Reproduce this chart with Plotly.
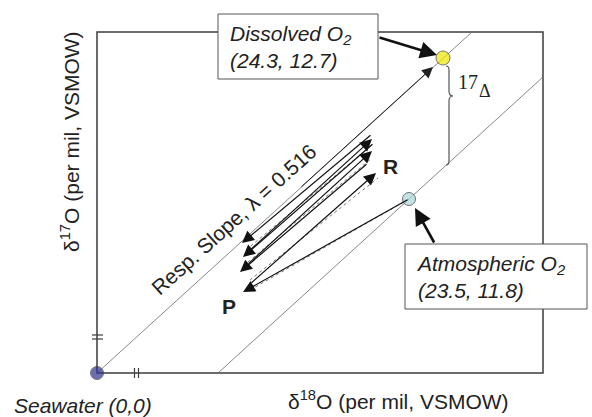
import plotly.graph_objects as go

# ---- data (schematic diagram units; origin = seawater) ----
pt_names = ["Seawater", "Dissolved O2", "Atmospheric O2"]
pt_x = [0, 346, 312]
pt_y = [0, 315, 174]
pt_colors = ["#2e3192", "#f2e600", "#a9d6d8"]
pt_sizes = [13, 14, 13]

frame_x = [0, 446]
frame_y = [0, 341]

# slope lines (respiration slope through seawater; parallel through atmospheric O2)
line1_x = [0, 375]
line1_y = [0, 341]
line2_x = [121, 446]
line2_y = [0, 296]

# photosynthesis / respiration arrows: tail -> head
arrows_tail_x = [312, 153, 271, 150, 277, 152, 275]
arrows_tail_y = [174, 89, 210, 108, 230, 122, 239]
arrows_head_x = [146, 279, 143, 275, 146, 275, 145]
arrows_head_y = [81, 200, 101, 222, 116, 234, 130]

dotted_x0 = [312, 153, 151, 149]
dotted_y0 = [174, 93, 111, 123]
dotted_x1 = [153, 281, 275, 275]
dotted_y1 = [83, 195, 215, 228]

# main arrow along slope line to dissolved O2
main_tail = (203, 185)
main_head = (336, 306)

# callout arrows
callout_tail_x = [281, 338]
callout_tail_y = [336, 129]
callout_head_x = [340, 318]
callout_head_y = [318, 165]

# brace between the two slope lines (17-Delta)
brace_top = 307
brace_tip = 277
brace_bottom = 208
brace_x = 352

fig = go.Figure()

# frame
fig.add_shape(type="rect", x0=frame_x[0], x1=frame_x[1], y0=frame_y[0], y1=frame_y[1],
              line=dict(color="#3c3c3c", width=1.5), layer="below")

# slope lines
fig.add_trace(go.Scatter(x=line1_x, y=line1_y, mode="lines",
                         line=dict(color="#6a6a6a", width=0.8), hoverinfo="skip"))
fig.add_trace(go.Scatter(x=line2_x, y=line2_y, mode="lines",
                         line=dict(color="#6a6a6a", width=0.8), hoverinfo="skip"))

# dotted companions
for a, b, c, d in zip(dotted_x0, dotted_y0, dotted_x1, dotted_y1):
    fig.add_trace(go.Scatter(x=[a, c], y=[b, d], mode="lines",
                             line=dict(color="#555", width=0.8, dash="dot"), hoverinfo="skip"))

# hash marks on axes
fig.add_trace(go.Scatter(x=[-5, 6, None, -5, 6], y=[38, 38, None, 34, 34], mode="lines",
                         line=dict(color="#3c3c3c", width=1.2), hoverinfo="skip"))
fig.add_trace(go.Scatter(x=[37.5, 37.5, None, 41.5, 41.5], y=[-5, 5, None, -5, 5], mode="lines",
                         line=dict(color="#3c3c3c", width=1.2), hoverinfo="skip"))

# brace
bt, bm, bb, bx = brace_top, brace_tip, brace_bottom, brace_x
path = (f"M {bx-3},{bt} Q {bx},{bt} {bx},{bt-4} L {bx},{bm+5} Q {bx},{bm} {bx+4},{bm} "
        f"Q {bx},{bm} {bx},{bm-5} L {bx},{bb+4} Q {bx},{bb} {bx-3},{bb}")
fig.add_shape(type="path", path=path, line=dict(color="#555", width=1.2))

# points
fig.add_trace(go.Scatter(x=pt_x, y=pt_y, mode="markers", text=pt_names,
                         marker=dict(color=pt_colors, size=pt_sizes,
                                     line=dict(color="#3a3a3a", width=1)),
                         cliponaxis=False, hoverinfo="text"))

# callout boxes
font_main = "Liberation Sans, Arial, sans-serif"
fig.add_shape(type="rect", x0=121, x1=281, y0=294, y1=359, fillcolor="white",
              line=dict(color="#555", width=1), layer="above")
fig.add_shape(type="rect", x0=308, x1=490, y0=64, y1=129, fillcolor="white",
              line=dict(color="#555", width=1), layer="above")


def arrow(tx, ty, hx, hy, width, size, color="#111"):
    return dict(x=hx, y=hy, ax=tx, ay=ty, axref="x", ayref="y", showarrow=True,
                arrowhead=2, arrowsize=size, arrowwidth=width, arrowcolor=color, text="")


annotations = []
for tx, ty, hx, hy in zip(arrows_tail_x, arrows_tail_y, arrows_head_x, arrows_head_y):
    annotations.append(arrow(tx, ty, hx, hy, 1.2, 2.0))
annotations.append(arrow(main_tail[0], main_tail[1], main_head[0], main_head[1], 1.0, 2.2, "#222"))
for tx, ty, hx, hy in zip(callout_tail_x, callout_tail_y, callout_head_x, callout_head_y):
    annotations.append(arrow(tx, ty, hx, hy, 2.6, 1.3))

annotations += [
    dict(x=131, y=326.5, xanchor="left", yanchor="middle", align="left", showarrow=False,
         text="<i>Dissolved O<sub>2</sub></i><br><i>(24.3, 12.7)</i>",
         font=dict(family=font_main, size=21, color="#222")),
    dict(x=317, y=96.5, xanchor="left", yanchor="middle", align="left", showarrow=False,
         text="<i>Atmospheric O<sub>2</sub></i><br><i>(23.5, 11.8)</i>",
         font=dict(family=font_main, size=21, color="#222")),
    dict(x=136.5, y=154, text="Resp. Slope, λ = 0.516", textangle=-42, showarrow=False,
         font=dict(family=font_main, size=21, color="#222")),
    dict(x=293, y=207, text="<b>R</b>", showarrow=False,
         font=dict(family=font_main, size=21, color="#222")),
    dict(x=132, y=67, text="<b>P</b>", showarrow=False,
         font=dict(family=font_main, size=21, color="#222")),
    dict(x=359, y=291, text="17", xanchor="left", showarrow=False,
         font=dict(family="Liberation Serif, Times New Roman, serif", size=20, color="#222")),
    dict(x=380, y=282, text="Δ", xanchor="left", showarrow=False,
         font=dict(family="Liberation Serif, Times New Roman, serif", size=18, color="#222")),
    dict(x=-27, y=231, text="δ<sup>17</sup>O (per mil, VSMOW)", textangle=-90, showarrow=False,
         font=dict(family=font_main, size=21, color="#222")),
    dict(x=301.5, y=-27, text="δ<sup>18</sup>O (per mil, VSMOW)", showarrow=False,
         font=dict(family=font_main, size=21, color="#222")),
    dict(x=-14.5, y=-32, text="<i>Seawater (0,0)</i>", showarrow=False,
         font=dict(family=font_main, size=21, color="#222")),
]
for a in annotations:
    a["xref"] = "x"
    a["yref"] = "y"

fig.update_layout(
    width=592, height=417, margin=dict(l=0, r=0, t=0, b=0),
    paper_bgcolor="white", plot_bgcolor="white", showlegend=False,
    xaxis=dict(range=[-97, 495], visible=False, fixedrange=True),
    yaxis=dict(range=[-44, 373], visible=False, fixedrange=True),
    annotations=annotations,
)

fig.write_html("out.html")
